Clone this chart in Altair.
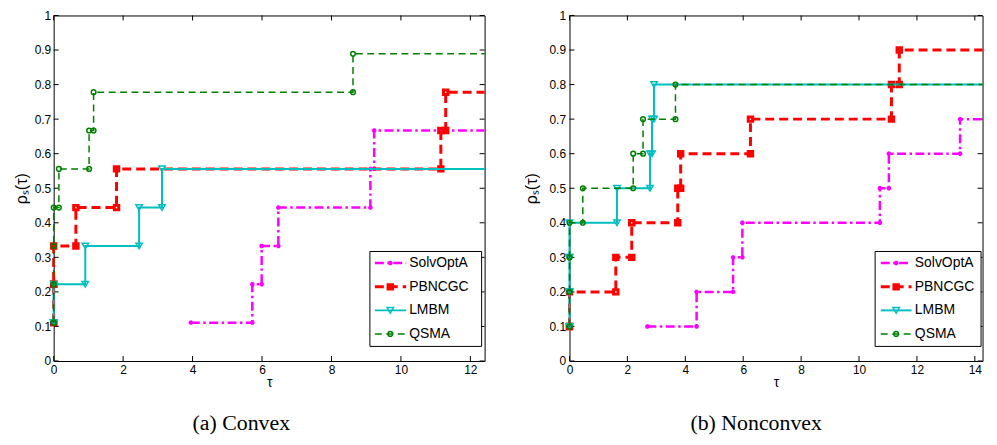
import altair as alt
import pandas as pd

SERIES = ["SolvOptA", "PBNCGC", "LMBM", "QSMA"]

# ---- (a) Convex: 9 problems ----
convex_tau_solvopta = [3.95, 5.72, 5.99, 6.47, 9.12, 9.23]
convex_rho_solvopta = [0.111, 0.222, 0.333, 0.444, 0.556, 0.667]
convex_tau_pbncgc = [0.0, 0.0, 0.0, 0.64, 1.81, 11.15, 11.29]
convex_rho_pbncgc = [0.111, 0.222, 0.333, 0.444, 0.556, 0.667, 0.778]
convex_tau_lmbm = [0.0, 0.0, 0.91, 2.46, 3.12]
convex_rho_lmbm = [0.111, 0.222, 0.333, 0.444, 0.556]
convex_tau_qsma = [0.0, 0.0, 0.0, 0.0, 0.15, 1.02, 1.15, 8.62]
convex_rho_qsma = [0.111, 0.222, 0.333, 0.444, 0.556, 0.667, 0.778, 0.889]

# ---- (b) Nonconvex: 10 problems ----
nonconvex_tau_solvopta = [2.69, 4.39, 5.65, 5.97, 10.72, 11.03, 13.49]
nonconvex_rho_solvopta = [0.1, 0.2, 0.3, 0.4, 0.5, 0.6, 0.7]
nonconvex_tau_pbncgc = [0.0, 0.0, 1.60, 2.15, 3.74, 3.84, 6.25, 11.12, 11.39]
nonconvex_rho_pbncgc = [0.1, 0.2, 0.3, 0.4, 0.5, 0.6, 0.7, 0.8, 0.9]
nonconvex_tau_lmbm = [0.0, 0.0, 0.0, 0.0, 1.64, 2.78, 2.85, 2.92]
nonconvex_rho_lmbm = [0.1, 0.2, 0.3, 0.4, 0.5, 0.6, 0.7, 0.8]
nonconvex_tau_qsma = [0.0, 0.0, 0.0, 0.0, 0.46, 2.20, 2.54, 3.66]
nonconvex_rho_qsma = [0.1, 0.2, 0.3, 0.4, 0.5, 0.6, 0.7, 0.8]

y_ticks = [0, 0.1, 0.2, 0.3, 0.4, 0.5, 0.6, 0.7, 0.8, 0.9, 1.0]
x_ticks_convex = [0, 2, 4, 6, 8, 10, 12]
x_ticks_nonconvex = [0, 2, 4, 6, 8, 10, 12, 14]

captions = ["(a)  Convex", "(b)  Nonconvex"]

ASTERISK = "M-1,0L1,0M0,-1L0,1M-0.7,-0.7L0.7,0.7M-0.7,0.7L0.7,-0.7"
STYLE = {
    "SolvOptA": dict(color="#FF00FF", width=2.5, dash=[9, 3.5, 2.5, 3.5], shape=ASTERISK, size=20, mstroke=1.8),
    "PBNCGC": dict(color="#FF0000", width=3, dash=[9, 5], shape="square", size=20, mstroke=3),
    "LMBM": dict(color="#00BFBF", width=2, dash=None, shape="triangle-down", size=42, mstroke=1.5),
    "QSMA": dict(color="#008000", width=1.5, dash=[7, 4.5], shape="circle", size=22, mstroke=1.5),
}

FONT = "Liberation Sans"
H = 348
PX_PER_UNIT_R = 29.16


def stairs(tau, rho, xend):
    rows = []
    k = 0
    for i, (t, r) in enumerate(zip(tau, rho)):
        if i > 0:
            rows.append({"x": t, "y": rho[i - 1], "i": k, "m": 1}); k += 1
        rows.append({"x": t, "y": r, "i": k, "m": 1}); k += 1
    rows.append({"x": xend, "y": rho[-1], "i": k, "m": 0})
    return pd.DataFrame(rows)


def panel(taus, rhos, xmax, W, xticks, caption, dx, title_x, lab_pad, leg):
    xs = alt.Scale(domain=[0, xmax], nice=False, zero=False)
    ys = alt.Scale(domain=[0, 1], nice=False, zero=False)
    xaxis = alt.Axis(values=xticks, title="τ", labelPadding=4, titlePadding=0,
                     labelFlush=False, ticks=False, tickSize=0, domain=False, grid=False)
    yaxis = alt.Axis(values=y_ticks, title="ρₛ(τ)", format="~g", labelPadding=lab_pad,
                     labelFlush=False, ticks=False, tickSize=0, domain=False, grid=False,
                     titleX=title_x, titleY=H / 2, titleBaseline="middle", titleFontSize=16)
    X = alt.X("x:Q", scale=xs, axis=xaxis)
    Y = alt.Y("y:Q", scale=ys, axis=yaxis)
    layers = []
    dummy = alt.Data(values=[{"a": 1}])
    ydf = pd.DataFrame({"y": y_ticks})
    xdf = pd.DataFrame({"x": xticks})
    layers.append(alt.Chart(ydf).mark_rule(color="black", strokeWidth=1).encode(
        y=Y, x=alt.value(0), x2=alt.value(5)))
    layers.append(alt.Chart(ydf).mark_rule(color="black", strokeWidth=1).encode(
        y=Y, x=alt.value(W - 5), x2=alt.value(W)))
    layers.append(alt.Chart(xdf).mark_rule(color="black", strokeWidth=1).encode(
        x=X, y=alt.value(H), y2=alt.value(H - 5)))
    layers.append(alt.Chart(xdf).mark_rule(color="black", strokeWidth=1).encode(
        x=X, y=alt.value(0), y2=alt.value(5)))
    for name in SERIES:
        st = STYLE[name]
        df = stairs(taus[name], rhos[name], xmax)
        lkw = dict(color=st["color"], strokeWidth=st["width"], clip=False)
        if st["dash"]:
            lkw["strokeDash"] = st["dash"]
        layers.append(alt.Chart(df).mark_line(**lkw).encode(x=X, y=Y, order="i:Q"))
        layers.append(alt.Chart(df[df["m"] == 1]).mark_point(
            shape=st["shape"], size=st["size"], stroke=st["color"], strokeWidth=st["mstroke"],
            filled=False, opacity=1).encode(x=X, y=Y))
    bl, br, bt, bb, lx0, lx1, mx, tx = leg
    layers.append(alt.Chart(dummy).mark_rect(fill="white", stroke="black", strokeWidth=1).encode(
        x=alt.value(bl), x2=alt.value(br), y=alt.value(bt), y2=alt.value(bb)))
    row_y = [b + bt - 238.7 for b in [250.3, 274.3, 298.0, 321.7]]
    for name, ry in zip(SERIES, row_y):
        st = STYLE[name]
        rkw = dict(color=st["color"], strokeWidth=st["width"])
        if st["dash"]:
            rkw["strokeDash"] = st["dash"]
        layers.append(alt.Chart(dummy).mark_rule(**rkw).encode(
            x=alt.value(lx0), x2=alt.value(lx1), y=alt.value(ry)))
        layers.append(alt.Chart(dummy).mark_point(
            shape=st["shape"], size=st["size"], stroke=st["color"], strokeWidth=st["mstroke"],
            filled=False, opacity=1).encode(x=alt.value(mx), y=alt.value(ry)))
        layers.append(alt.Chart(dummy).mark_text(
            text=name, align="left", baseline="middle", font=FONT, fontSize=14, color="black").encode(
            x=alt.value(tx), y=alt.value(ry)))
    return alt.layer(*layers).properties(
        width=W, height=H,
        title=alt.TitleParams(caption, orient="bottom", font="Liberation Serif", fontSize=22,
                              fontWeight="normal", color="black", offset=23, dx=dx,
                              frame="group", anchor="middle"))


W1 = 434
W2 = 416
left = panel(
    {"SolvOptA": convex_tau_solvopta, "PBNCGC": convex_tau_pbncgc,
     "LMBM": convex_tau_lmbm, "QSMA": convex_tau_qsma},
    {"SolvOptA": convex_rho_solvopta, "PBNCGC": convex_rho_pbncgc,
     "LMBM": convex_rho_lmbm, "QSMA": convex_rho_qsma},
    12.41, W1, x_ticks_convex, captions[0], -28, -32, 3,
    (318.5, W1 - 3, H - 110.3, H - 14.7, 323.5, 355, 339, 358))
right = panel(
    {"SolvOptA": nonconvex_tau_solvopta, "PBNCGC": nonconvex_tau_pbncgc,
     "LMBM": nonconvex_tau_lmbm, "QSMA": nonconvex_tau_qsma},
    {"SolvOptA": nonconvex_rho_solvopta, "PBNCGC": nonconvex_rho_pbncgc,
     "LMBM": nonconvex_rho_lmbm, "QSMA": nonconvex_rho_qsma},
    W2 / PX_PER_UNIT_R, W2, x_ticks_nonconvex, captions[1], -20, -38, 4,
    (W2 - 108.2, W2 - 1.5, H - 110.3, H - 14.7, W2 - 102.5, W2 - 71.5, W2 - 87, W2 - 68.2))

chart = alt.hconcat(left, right, spacing=31.5).properties(
    padding={"left": 5, "top": -1, "right": 0, "bottom": 0}
).configure_view(stroke="black", strokeWidth=1).configure_axis(
    labelFont=FONT, labelFontSize=12, labelColor="black",
    titleFont=FONT, titleFontSize=14, titleFontWeight="normal", titleColor="black"
).configure_title(font="Liberation Serif")

chart.save("out.html", embed_options={"renderer": "svg", "actions": False})
